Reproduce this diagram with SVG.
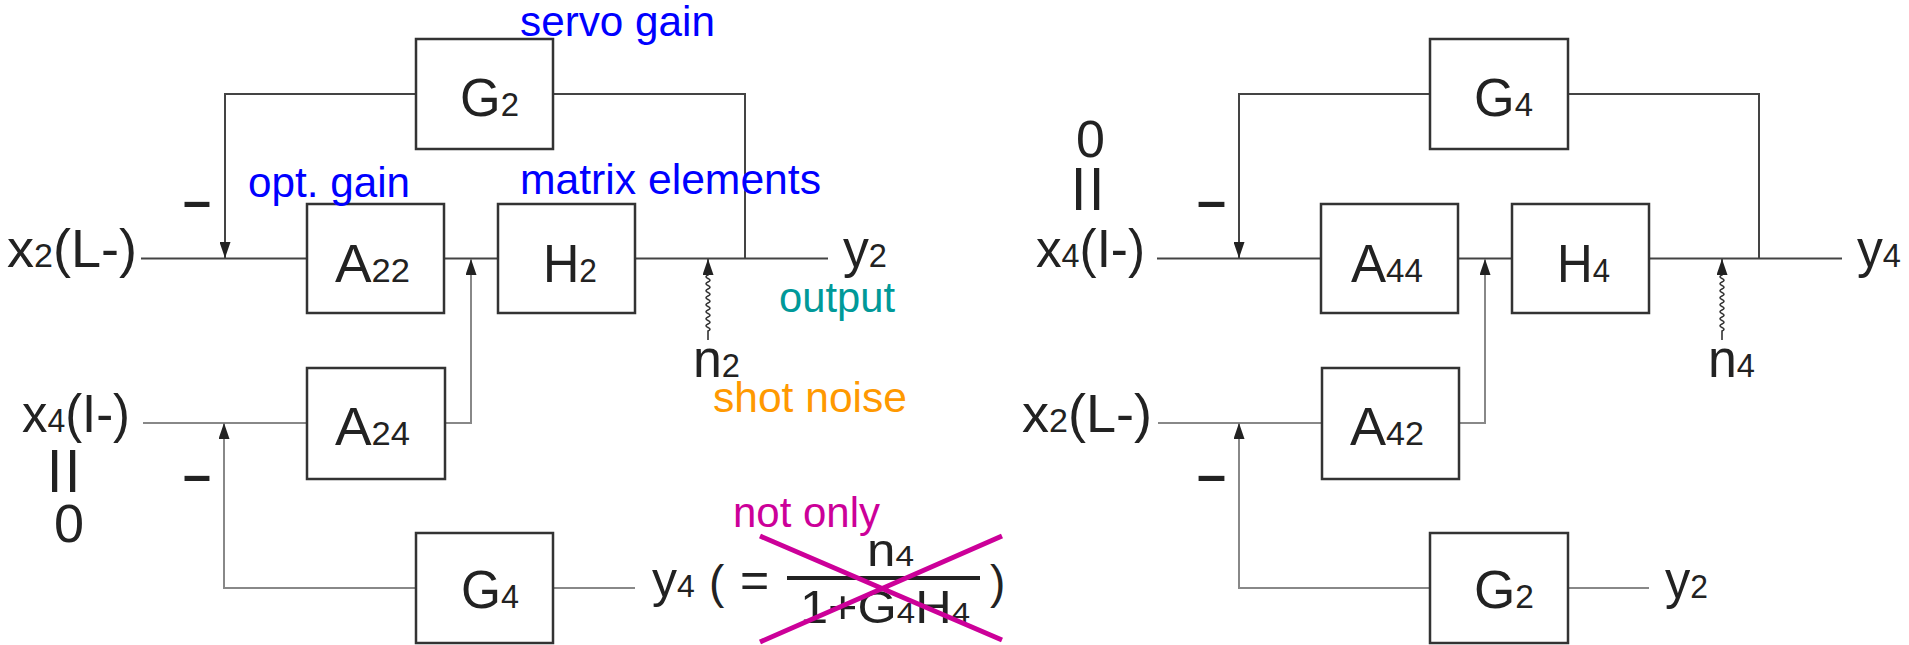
<svg xmlns="http://www.w3.org/2000/svg" width="1909" height="645" viewBox="0 0 1909 645">
<style>
.box{fill:#fff;stroke:#333;stroke-width:2.5}
.wd{fill:none;stroke:#444;stroke-width:2}
.wl{fill:none;stroke:#888;stroke-width:2}
.nz{fill:none;stroke:#333;stroke-width:1.6}
.t{font-family:"Liberation Sans",Arial,sans-serif;fill:#222;font-size:54px}
.s{font-size:34px}
.bl{font-family:"Liberation Sans",Arial,sans-serif;font-size:42px;fill:#0000ff}
.an{font-family:"Liberation Sans",Arial,sans-serif;font-size:42px}
.mn{font-family:"Liberation Sans",Arial,sans-serif;font-size:52px;font-weight:bold;fill:#222}
.eq{font-size:72px}
</style>
<defs>
<marker id="arr" viewBox="0 0 16 11" markerWidth="16" markerHeight="11" refX="16" refY="5.5" orient="auto" markerUnits="userSpaceOnUse">
<path d="M0,0 L16,5.5 L0,11 z" fill="#222"/>
</marker>
</defs>

<g id="connectors">
<!-- left -->
<path class="wd" d="M141,258.5 H828"/>
<path class="wd" d="M745,258.5 V94 H225 V258" marker-end="url(#arr)"/>
<path class="wl" d="M143,423 H307"/>
<path class="wl" d="M445,423 H471 V259" marker-end="url(#arr)"/>
<path class="wl" d="M416,588 H224 V423" marker-end="url(#arr)"/>
<path class="wl" d="M553,588 H635"/>
<path class="nz" d="M708,340 L708,331 q4,-1.75 0,-3.5 q-4,-1.75 0,-3.5 q4,-1.75 0,-3.5 q-4,-1.75 0,-3.5 q4,-1.75 0,-3.5 q-4,-1.75 0,-3.5 q4,-1.75 0,-3.5 q-4,-1.75 0,-3.5 q4,-1.75 0,-3.5 q-4,-1.75 0,-3.5 q4,-1.75 0,-3.5 q-4,-1.75 0,-3.5 q4,-1.75 0,-3.5 q-4,-1.75 0,-3.5 q4,-1.75 0,-3.5 q-4,-1.75 0,-3.5 L708,259" marker-end="url(#arr)"/>
<!-- right -->
<path class="wd" d="M1157,258.5 H1842"/>
<path class="wd" d="M1759,258.5 V94 H1239 V258" marker-end="url(#arr)"/>
<path class="wl" d="M1158,423 H1322"/>
<path class="wl" d="M1459,423 H1485 V259" marker-end="url(#arr)"/>
<path class="wl" d="M1430,588 H1239 V423" marker-end="url(#arr)"/>
<path class="wl" d="M1568,588 H1649"/>
<path class="nz" d="M1722,340 L1722,331 q4,-1.75 0,-3.5 q-4,-1.75 0,-3.5 q4,-1.75 0,-3.5 q-4,-1.75 0,-3.5 q4,-1.75 0,-3.5 q-4,-1.75 0,-3.5 q4,-1.75 0,-3.5 q-4,-1.75 0,-3.5 q4,-1.75 0,-3.5 q-4,-1.75 0,-3.5 q4,-1.75 0,-3.5 q-4,-1.75 0,-3.5 q4,-1.75 0,-3.5 q-4,-1.75 0,-3.5 q4,-1.75 0,-3.5 q-4,-1.75 0,-3.5 L1722,259" marker-end="url(#arr)"/>
</g>

<!-- left diagram nodes -->
<g id="G2-top"><rect class="box" x="416" y="39" width="137" height="110"/><text class="t" x="460" y="116" textLength="59" lengthAdjust="spacingAndGlyphs">G<tspan class="s">2</tspan></text></g>
<g id="A22"><rect class="box" x="307" y="204" width="137" height="109"/><text class="t" x="335" y="282" textLength="75" lengthAdjust="spacingAndGlyphs">A<tspan class="s">22</tspan></text></g>
<g id="H2"><rect class="box" x="498" y="204" width="137" height="109"/><text class="t" x="543" y="282" textLength="54" lengthAdjust="spacingAndGlyphs">H<tspan class="s">2</tspan></text></g>
<g id="A24"><rect class="box" x="307" y="368" width="138" height="111"/><text class="t" x="335" y="445" textLength="75" lengthAdjust="spacingAndGlyphs">A<tspan class="s">24</tspan></text></g>
<g id="G4-bottom"><rect class="box" x="416" y="533" width="137" height="110"/><text class="t" x="461" y="608" textLength="58" lengthAdjust="spacingAndGlyphs">G<tspan class="s">4</tspan></text></g>

<g id="in-x2-left"><text class="t" x="7" y="267" textLength="130" lengthAdjust="spacingAndGlyphs">x<tspan class="s">2</tspan>(L-)</text></g>
<g id="minus-left-top"><text class="mn" x="183" y="218" textLength="28" lengthAdjust="spacingAndGlyphs">–</text></g>
<g id="out-y2-left"><text class="t" x="843" y="267" textLength="44" lengthAdjust="spacingAndGlyphs">y<tspan class="s">2</tspan></text></g>
<g id="noise-n2"><text class="t" x="693" y="377" textLength="47" lengthAdjust="spacingAndGlyphs">n<tspan class="s">2</tspan></text></g>
<g id="in-x4-left">
<text class="t" x="22" y="432" textLength="108" lengthAdjust="spacingAndGlyphs">x<tspan class="s">4</tspan>(I-)</text>
<text class="t eq" text-anchor="middle" x="0" y="26" transform="translate(66.5,471) rotate(90) scale(1.2,1)">=</text>
<text class="t" x="54" y="542">0</text>
</g>
<g id="minus-left-bottom"><text class="mn" x="183" y="492" textLength="28" lengthAdjust="spacingAndGlyphs">–</text></g>
<g id="out-y4-left">
<text class="t" x="652" y="597" style="font-size:50px">y<tspan style="font-size:32px">4</tspan></text>
<text class="t" x="709" y="598" style="font-size:46px">(</text>
<text class="t" x="740" y="597" style="font-size:50px">=</text>
<text class="t" x="867" y="566" style="font-size:46px" textLength="47" lengthAdjust="spacingAndGlyphs">n<tspan style="font-size:30px">4</tspan></text>
<rect x="787" y="576" width="193" height="4" fill="#222"/>
<text class="t" x="800" y="623" style="font-size:46px" textLength="170" lengthAdjust="spacingAndGlyphs">1+G<tspan style="font-size:30px">4</tspan>H<tspan style="font-size:30px">4</tspan></text>
<text class="t" x="990" y="598" style="font-size:46px">)</text>
</g>
<g id="annotations">
<text class="bl" x="520" y="36" textLength="195" lengthAdjust="spacingAndGlyphs">servo gain</text>
<text class="bl" x="248" y="197" textLength="162" lengthAdjust="spacingAndGlyphs">opt. gain</text>
<text class="bl" x="520" y="194" textLength="301" lengthAdjust="spacingAndGlyphs">matrix elements</text>
<text class="an" fill="#009999" x="779" y="312" textLength="116" lengthAdjust="spacingAndGlyphs">output</text>
<text class="an" fill="#ff9900" x="713" y="412" textLength="194" lengthAdjust="spacingAndGlyphs">shot noise</text>
<text class="an" fill="#cc0099" x="733" y="527" textLength="147" lengthAdjust="spacingAndGlyphs">not only</text>
<path d="M760,536 L1002,640 M1002,536 L760,642" stroke="#cc0099" stroke-width="5" fill="none"/>
</g>

<!-- right diagram nodes -->
<g id="G4-top"><rect class="box" x="1430" y="39" width="138" height="110"/><text class="t" x="1474" y="116" textLength="59" lengthAdjust="spacingAndGlyphs">G<tspan class="s">4</tspan></text></g>
<g id="A44"><rect class="box" x="1321" y="204" width="137" height="109"/><text class="t" x="1351" y="282" textLength="72" lengthAdjust="spacingAndGlyphs">A<tspan class="s">44</tspan></text></g>
<g id="H4"><rect class="box" x="1512" y="204" width="137" height="109"/><text class="t" x="1557" y="282" textLength="53" lengthAdjust="spacingAndGlyphs">H<tspan class="s">4</tspan></text></g>
<g id="A42"><rect class="box" x="1322" y="368" width="137" height="111"/><text class="t" x="1350" y="445" textLength="74" lengthAdjust="spacingAndGlyphs">A<tspan class="s">42</tspan></text></g>
<g id="G2-bottom"><rect class="box" x="1430" y="533" width="138" height="110"/><text class="t" x="1474" y="608" textLength="60" lengthAdjust="spacingAndGlyphs">G<tspan class="s">2</tspan></text></g>

<g id="in-x4-right">
<text class="t" x="1076" y="157" style="font-size:52px">0</text>
<text class="t eq" text-anchor="middle" x="0" y="26" transform="translate(1090,189) rotate(90) scale(1.2,1)">=</text>
<text class="t" x="1036" y="267" textLength="109" lengthAdjust="spacingAndGlyphs">x<tspan class="s">4</tspan>(I-)</text>
</g>
<g id="minus-right-top"><text class="mn" x="1197" y="218" textLength="29" lengthAdjust="spacingAndGlyphs">–</text></g>
<g id="out-y4-right"><text class="t" x="1857" y="267" textLength="44" lengthAdjust="spacingAndGlyphs">y<tspan class="s">4</tspan></text></g>
<g id="noise-n4"><text class="t" x="1708" y="377" textLength="47" lengthAdjust="spacingAndGlyphs">n<tspan class="s">4</tspan></text></g>
<g id="in-x2-right"><text class="t" x="1022" y="432" textLength="130" lengthAdjust="spacingAndGlyphs">x<tspan class="s">2</tspan>(L-)</text></g>
<g id="minus-right-bottom"><text class="mn" x="1197" y="492" textLength="29" lengthAdjust="spacingAndGlyphs">–</text></g>
<g id="out-y2-right"><text class="t" x="1665" y="598" textLength="43" lengthAdjust="spacingAndGlyphs">y<tspan class="s">2</tspan></text></g>
</svg>
